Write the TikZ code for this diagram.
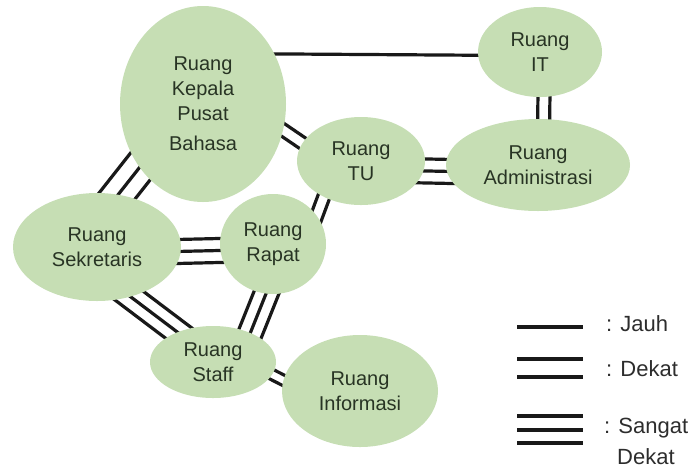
\documentclass[tikz,border=0pt]{standalone}
\usepackage{fontspec}
\setmainfont{Liberation Sans}
\usetikzlibrary{shapes.geometric,calc,backgrounds}
\definecolor{roomfill}{RGB}{198,222,180}
\definecolor{roomtext}{RGB}{40,52,36}
\definecolor{legendtext}{RGB}{45,45,45}

% parallel connector lines between two border points: #1 offsets, #2 and #3 anchors
\newcommand\roomlink[3]{%
  \path ($(#2)!-18pt!(#3)$) coordinate (lkA) ($(#3)!-18pt!(#2)$) coordinate (lkB);
  \foreach \o in {#1} {\draw[link] ($(lkA)!\o!90:(lkB)$) -- ($(lkB)!\o!-90:(lkA)$);}%
}

\begin{document}
\begin{tikzpicture}[x=1pt,y=-1pt,
  room/.style={ellipse, fill=roomfill, draw=none, inner sep=0pt, align=center,
    text=roomtext, font=\fontsize{20}{25}\selectfont},
  link/.style={line width=3.2pt, black!90},
  legtext/.style={anchor=west, text=legendtext, font=\fontsize{22}{26}\selectfont, inner sep=0pt}]
\useasboundingbox (0,0) rectangle (700,475);

% rooms
\node[room, minimum width=166pt, minimum height=196pt] (kep) at (203,104)
  {Ruang\\Kepala\\Pusat\\[5pt]Bahasa};
\node[room, minimum width=124pt, minimum height=90pt] (it) at (540,52) {Ruang\\IT};
\node[room, minimum width=184pt, minimum height=92pt] (adm) at (538,165) {Ruang\\Administrasi};
\node[room, minimum width=128pt, minimum height=88pt] (tu) at (361,161) {Ruang\\TU};
\node[room, minimum width=168pt, minimum height=108pt] (sek) at (97,247) {Ruang\\Sekretaris};
\node[room, minimum width=106pt, minimum height=100pt] (rap) at (273,244) {Ruang\\Rapat};
\node[room, minimum width=126pt, minimum height=72pt] (sta) at (213,362) {Ruang\\Staff};
\node[room, minimum width=156pt, minimum height=112pt] (inf) at (360,391) {Ruang\\Informasi};

% connectors, kept behind the rooms
\begin{scope}[on background layer]
  \roomlink{0pt}{kep.35}{it.183}
  \roomlink{-6pt,6pt}{kep.-18}{tu.163}
  \roomlink{-16pt,0pt,16pt}{kep.-135}{sek.68}
  \roomlink{-6pt,6pt}{it.-85}{adm.83}
  \roomlink{-12pt,0pt,12pt}{tu.-9}{adm.184}
  \roomlink{-6pt,6pt}{tu.-136}{rap.33}
  \roomlink{-12pt,0pt,12pt}{sek.-3}{rap.187}
  \roomlink{-12pt,0pt,12pt}{sek.-56}{sta.140}
  \roomlink{-12pt,0pt,12pt}{rap.-98}{sta.38}
  \roomlink{-5pt,5pt}{sta.-12}{inf.172}
\end{scope}

% legend
\coordinate (ja) at (517,327); \coordinate (jb) at (583,327);
\draw[link] (ja) -- (jb);
\coordinate (da) at (517,359); \coordinate (db) at (583,359);
\coordinate (dc) at (517,377); \coordinate (dd) at (583,377);
\draw[link] (da) -- (db); \draw[link] (dc) -- (dd);
\coordinate (sa) at (517,416); \coordinate (sb) at (583,416);
\coordinate (sc) at (517,430); \coordinate (sd) at (583,430);
\coordinate (se) at (517,443); \coordinate (sf) at (583,443);
\draw[link] (sa) -- (sb); \draw[link] (sc) -- (sd); \draw[link] (se) -- (sf);
\node[legtext] (ljauh) at (606,324) {: Jauh};
\node[legtext] (ldekat) at (606,369) {: Dekat};
\node[legtext] (lsangat) at (604,428) {: Sangat};
\node[legtext] (lsangat2) at (617,457) {Dekat};
\end{tikzpicture}
\end{document}
